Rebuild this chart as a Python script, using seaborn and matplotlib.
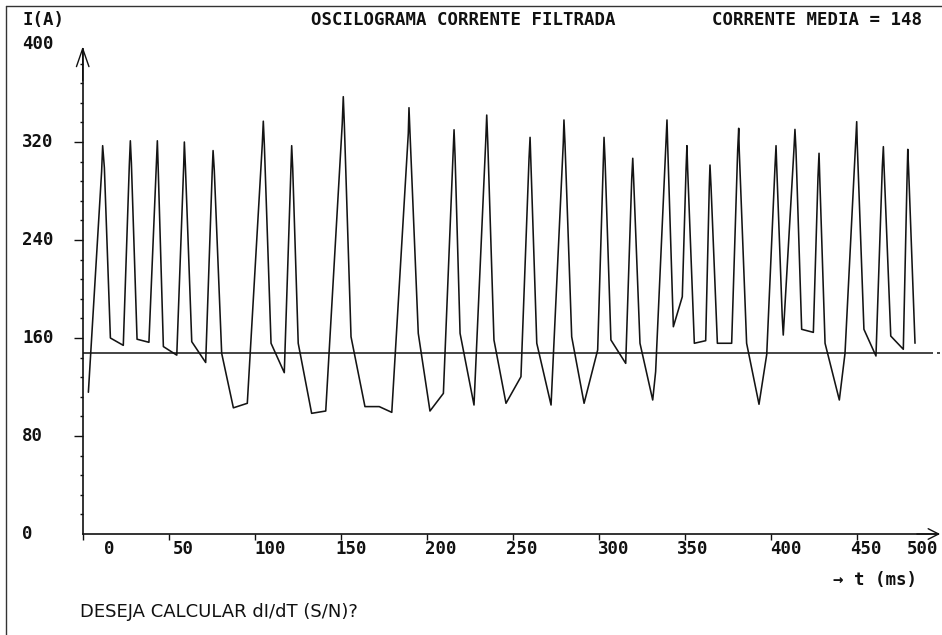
import matplotlib
matplotlib.use("Agg")
import matplotlib.pyplot as plt
import matplotlib.transforms as mtransforms
from matplotlib.lines import Line2D
import seaborn as sns

# oscillogram samples: time (ms) and filtered current (A)
t_ms = [3.3, 11.0, 11.6, 12.6, 16.1, 23.6,
        27.1, 27.7, 28.3, 31.6, 38.5,
        42.8, 43.4, 43.8, 46.9, 54.7,
        58.7, 59.1, 59.7, 63.4, 71.5,
        75.3, 75.8, 76.5, 80.8, 87.6, 95.7,
        104.4, 105.0, 105.6, 109.5, 117.2,
        121.1, 121.5, 122.1, 125.3, 133.1, 141.3,
        150.9, 151.5, 152.1, 156.0, 164.1, 172.4, 179.7,
        189.3, 189.7, 190.3, 195.1, 201.9, 209.7,
        215.3, 215.9, 216.5, 219.4, 227.5,
        234.3, 234.9, 235.5, 239.1, 246.1, 254.8,
        259.5, 260.1, 260.5, 264.0, 272.3,
        279.4, 279.8, 280.4, 284.3, 291.5, 299.4,
        302.7, 303.1, 303.7, 307.1, 315.7,
        319.2, 319.8, 320.3, 324.0, 331.4, 333.1,
        339.1, 339.7, 340.1, 343.4, 348.6,
        350.8, 351.3, 351.7, 355.6, 362.2,
        364.3, 364.7, 365.3, 369.0, 377.3,
        380.8, 381.4, 381.7, 386.0, 393.2, 397.7,
        402.5, 403.1, 403.5, 406.7, 407.3,
        413.5, 414.1, 414.7, 418.0, 424.8,
        427.5, 428.1, 428.5, 431.6, 439.9, 443.2,
        449.4, 450.0, 450.3, 454.2, 461.2,
        464.9, 465.5, 465.9, 469.8, 477.1,
        479.2, 479.7, 480.2, 483.9]
i_amp = [115.7, 296, 317, 299, 160, 154,
         301, 321, 303, 159, 156.5,
         301, 321, 303, 153, 146,
         300, 320, 300.5, 157, 140,
         296, 313, 297, 147.5, 103, 106.7,
         318, 337, 318, 155.7, 131.7,
         298.5, 317, 298.5, 155.7, 98.5, 100.4,
         335, 357, 335, 161, 104, 104, 99.3,
         327, 348, 327, 163.8, 100.4, 114.8,
         308, 330, 308, 163.8, 105.3,
         320, 342, 320, 158.4, 106.7, 128.4,
         306.7, 323.8, 306.7, 155.7, 105.3,
         319, 338, 319, 161, 106.7, 150.2,
         305, 323.8, 305, 158.4, 139.3,
         290, 306.7, 290, 155.7, 109.4, 132.5,
         317.6, 338, 317.6, 169.2, 193.7,
         298.5, 317, 298.5, 155.7, 157.8,
         284, 301.2, 284, 155.7, 155.7,
         313.5, 331.2, 313.5, 155.7, 105.9, 146.7,
         300, 317, 300, 177.4, 162.4,
         313.5, 330.3, 313.5, 167.1, 164.6,
         291.7, 310.8, 291.7, 155.7, 109.4, 147.5,
         319, 336.6, 319, 167.1, 145.3,
         300, 316.2, 300, 161.6, 150.8,
         286, 314, 297, 155.7]

corrente_media = 148

y_major = [80, 160, 240, 320]
y_minor = [v for v in range(16, 400, 16) if v % 80 != 0]
y_labels = ["0", "80", "160", "240", "320", "400"]
y_label_vals = [0, 80, 160, 240, 320, 400]
x_ticks = [0, 50, 100, 150, 200, 250, 300, 350, 400, 450]
x_labels = ["0", "50", "100", "150", "200", "250", "300", "350", "400", "450", "500"]
x_label_pos = [12.4, 52.5, 99.6, 146.7, 199, 246, 299.6, 345.5, 399.6, 446, 479]

sns.set_style("white")
plt.rcParams["font.family"] = ["DejaVu Sans Mono", "DejaVu Sans"]

W, H = 942, 635
fig = plt.figure(figsize=(W / 100, H / 100), dpi=100)
ax = fig.add_axes([82.7 / W, (H - 534) / H, 860 / W, 490 / H])
ax.set_xlim(0, 500)
ax.set_ylim(0, 400)

ink = "#111111"
sns.lineplot(x=t_ms, y=i_amp, sort=False, estimator=None, color="#141414",
             lw=1.15, ax=ax)
ax.hlines(corrente_media, 0, 494.5, color=ink, lw=1.1)
ax.hlines(corrente_media, 496.5, 498.5, color=ink, lw=1.1)

# axes drawn as arrows, like the old DOS screen
for s in ["top", "right"]:
    ax.spines[s].set_visible(False)
ax.spines["bottom"].set_bounds(0, 497)
ax.spines["left"].set_bounds(0, 396)
for s in ["bottom", "left"]:
    ax.spines[s].set_color(ink)
    ax.spines[s].set_linewidth(1.2)
ax.annotate("", xy=(0, 398), xytext=(0, 370),
            arrowprops=dict(arrowstyle="->,head_length=1.3,head_width=0.45",
                            lw=1.0, color=ink, mutation_scale=10, shrinkA=0, shrinkB=0))
ax.annotate("", xy=(498.5, 0), xytext=(485, 0),
            arrowprops=dict(arrowstyle="->,head_length=0.75,head_width=0.38",
                            lw=1.0, color=ink, mutation_scale=10, shrinkA=0, shrinkB=0))

ax.set_xticks(x_ticks)
ax.set_yticks(y_major)
ax.set_yticks(y_minor, minor=True)
ax.tick_params(axis="x", which="major", direction="out", length=4.5, width=1,
               color=ink, labelbottom=False, bottom=True)
ax.tick_params(axis="y", which="major", direction="out", length=6.5, width=1,
               color=ink, labelleft=False, left=True)
ax.tick_params(axis="y", which="minor", direction="out", length=2.3, width=1,
               color=ink, left=True)
ax.set_xlabel("")
ax.set_ylabel("")

dos = dict(family=["DejaVu Sans Mono", "DejaVu Sans"], weight="bold",
           fontsize=12.5, color=ink)

ytrans = mtransforms.blended_transform_factory(fig.transFigure, ax.transData)
for v, lab in zip(y_label_vals, y_labels):
    ax.text(22 / W, v, lab, transform=ytrans, ha="left", va="center", **dos)

xtrans = mtransforms.blended_transform_factory(ax.transData, fig.transFigure)
for p, lab in zip(x_label_pos, x_labels):
    ax.text(p, 1 - 549 / H, lab, transform=xtrans, ha="left", va="center", **dos)

fig.text(22 / W, 1 - 20 / H, "I(A)", ha="left", va="center", **dos)
fig.text(311 / W, 1 - 20 / H, "OSCILOGRAMA CORRENTE FILTRADA", ha="left", va="center", **dos)
fig.text(712 / W, 1 - 20 / H, f"CORRENTE MEDIA = {corrente_media}", ha="left", va="center", **dos)
fig.text(833 / W, 1 - 580 / H, "→ t (ms)", ha="left", va="center", **dos)
fig.text(80 / W, 1 - 612 / H, "DESEJA CALCULAR dI/dT (S/N)?", ha="left", va="center",
         family=["Liberation Sans Narrow", "DejaVu Sans"], fontsize=13, color=ink)

# screen frame
fig.add_artist(Line2D([6 / W, 6 / W], [0, 1 - 6 / H], transform=fig.transFigure,
                      color="#333333", lw=1.0))
fig.add_artist(Line2D([6 / W, 1], [1 - 6 / H, 1 - 6 / H], transform=fig.transFigure,
                      color="#333333", lw=1.0))

fig.savefig("out.png", dpi=100)
